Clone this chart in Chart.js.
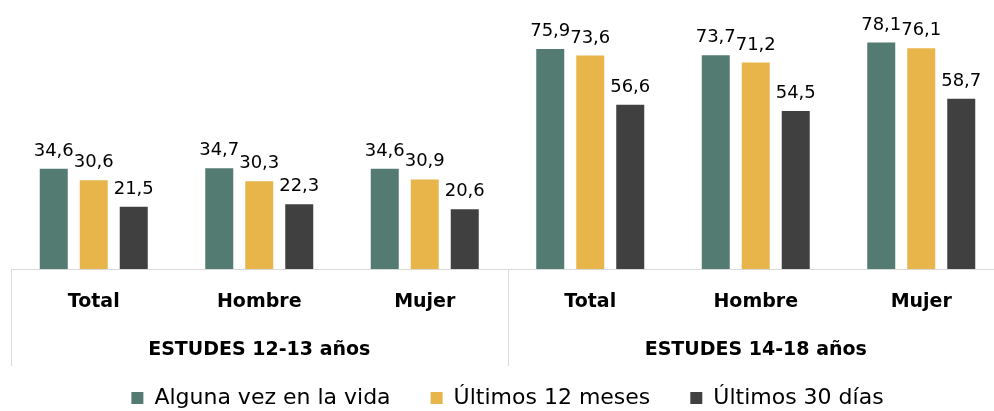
<!DOCTYPE html>
<html>
<head>
<meta charset="utf-8">
<script src="https://cdn.jsdelivr.net/npm/chart.js@4.4.0/dist/chart.umd.min.js"></script>
<style>
  html, body { margin: 0; padding: 0; background: #fff; overflow: hidden; }
  #wrap { width: 1004px; height: 411px; position: relative; }
</style>
</head>
<body>
<div id="wrap"><canvas id="chart"></canvas></div>
<script>
const categories = ['Total', 'Hombre', 'Mujer', 'Total', 'Hombre', 'Mujer'];
const groups = ['ESTUDES 12-13 años', 'ESTUDES 14-18 años'];
const seriesNames = ['Alguna vez en la vida', 'Últimos 12 meses', 'Últimos 30 días'];
const algunaVez = [34.6, 34.7, 34.6, 75.9, 73.7, 78.1];
const ultimos12 = [30.6, 30.3, 30.9, 73.6, 71.2, 76.1];
const ultimos30 = [21.5, 22.3, 20.6, 56.6, 54.5, 58.7];
const colors = ['#537b71', '#e8b54b', '#404040'];

const FONT = '"DejaVu Sans", sans-serif';

// value labels above each bar
const barLabels = {
    id: 'barLabels',
    afterDatasetsDraw(chart) {
        const ctx = chart.ctx;
        ctx.save();
        ctx.font = '18px ' + FONT;
        ctx.fillStyle = '#000';
        ctx.textAlign = 'center';
        ctx.textBaseline = 'alphabetic';
        chart.data.datasets.forEach(function (ds, i) {
            chart.getDatasetMeta(i).data.forEach(function (bar, j) {
                const txt = ds.data[j].toFixed(1).replace('.', ',');
                ctx.fillText(txt, bar.x, bar.y - 13);
            });
        });
        ctx.restore();
    }
};

// second level of the x axis: group names and separators
const groupAxis = {
    id: 'groupAxis',
    afterDraw(chart) {
        const ctx = chart.ctx;
        const x = chart.scales.x;
        const top = chart.chartArea.bottom;
        const half = (x.getPixelForValue(1) - x.getPixelForValue(0)) / 2;
        ctx.save();
        ctx.strokeStyle = '#d9d9d9';
        ctx.lineWidth = 1;
        [0, 3, 6].forEach(function (idx) {
            const px = Math.round(x.getPixelForValue(idx) - half) + 0.5;
            ctx.beginPath();
            ctx.moveTo(px, top);
            ctx.lineTo(px, top + 97);
            ctx.stroke();
        });
        ctx.font = 'bold 19px ' + FONT;
        ctx.fillStyle = '#000';
        ctx.textAlign = 'center';
        ctx.textBaseline = 'middle';
        groups.forEach(function (g, i) {
            ctx.fillText(g, x.getPixelForValue(i * 3 + 1), top + 81);
        });
        ctx.restore();
    }
};

new Chart(document.getElementById('chart'), {
    type: 'bar',
    data: {
        labels: categories,
        datasets: [
            { label: seriesNames[0], data: algunaVez, backgroundColor: colors[0] },
            { label: seriesNames[1], data: ultimos12, backgroundColor: colors[1] },
            { label: seriesNames[2], data: ultimos30, backgroundColor: colors[2] }
        ]
    },
    options: {
        responsive: true,
        maintainAspectRatio: false,
        animation: false,
        categoryPercentage: 0.725,
        barPercentage: 0.7,
        layout: { padding: { top: 8, left: 11, right: 0, bottom: -8 } },
        plugins: {
            legend: {
                position: 'bottom',
                labels: {
                    font: { family: FONT, size: 22 },
                    color: '#000',
                    boxWidth: 12,
                    boxHeight: 12,
                    padding: 40
                }
            },
            tooltip: { enabled: false }
        },
        scales: {
            x: {
                grid: { display: false },
                border: { display: true, color: '#d9d9d9', width: 1 },
                ticks: {
                    font: { family: FONT, size: 19, weight: 'bold' },
                    color: '#000',
                    padding: 14
                },
                afterFit(scale) { scale.height = 78; }
            },
            y: {
                display: false,
                min: 0,
                max: 90
            }
        }
    },
    plugins: [barLabels, groupAxis]
});
</script>
</body>
</html>
